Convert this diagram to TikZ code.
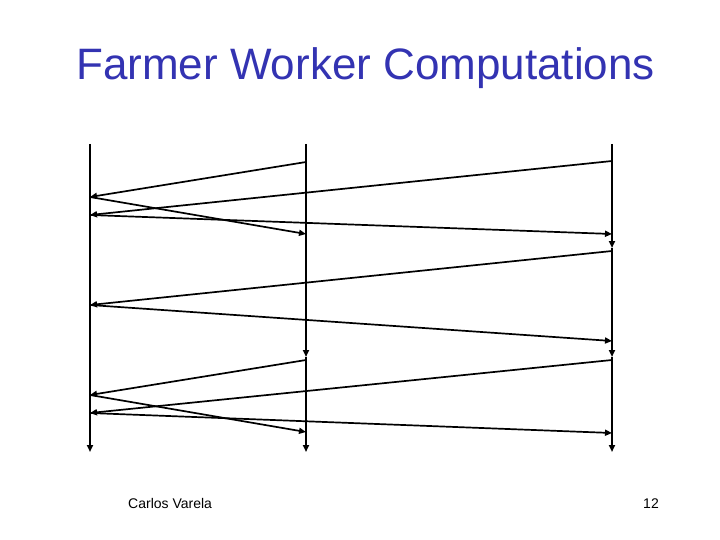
\documentclass[tikz,border=0pt]{standalone}
\usepackage{fontspec}
\setmainfont{Liberation Sans}
\usepackage{xcolor}
\usepackage{tikz}
\usetikzlibrary{arrows.meta}

\definecolor{titleblue}{RGB}{51,51,178}

\begin{document}
\begin{tikzpicture}[
  x=1pt, y=-1pt,
  life/.style={line width=1.7pt, -{Triangle[length=7pt,width=6pt]}},
  msg/.style={line width=1.7pt, -{Triangle[length=7pt,width=6pt]}},
  lab/.style={font=\fontsize{14}{16}\selectfont, inner sep=0pt}
]
\useasboundingbox (0,0) rectangle (720,540);

\node[font=\fontsize{44}{50}\selectfont, text=titleblue, anchor=base, inner sep=0pt] (title) at (365.5,80) {Farmer Worker Computations};

% lifelines
\coordinate (ftop) at (90,144);
\coordinate (fend) at (90,452);
\coordinate (atop) at (306,144);
\coordinate (a1) at (306,357);
\coordinate (aend) at (306,452);
\coordinate (btop) at (612,144);
\coordinate (b1) at (612,248);
\coordinate (b2) at (612,357);
\coordinate (bend) at (612,452);

\draw[life] (ftop) -- (fend);
\draw[life] (atop) -- (a1);
\draw[life] (a1) -- (aend);
\draw[life] (btop) -- (b1);
\draw[life] (b1) -- (b2);
\draw[life] (b2) -- (bend);

% events on the farmer
\coordinate (f1) at (90,197);
\coordinate (f2) at (90,215);
\coordinate (f3) at (90,305);
\coordinate (f4) at (90,395);
\coordinate (f5) at (90,413);

% events on the workers
\coordinate (as1) at (306,162);
\coordinate (ar1) at (306,234);
\coordinate (as2) at (306,360);
\coordinate (ar2) at (306,432);
\coordinate (bs1) at (612,161);
\coordinate (br1) at (612,234);
\coordinate (bs2) at (612,251);
\coordinate (br2) at (612,341);
\coordinate (bs3) at (612,360);
\coordinate (br3) at (612,433);

\draw[msg] (as1) -- (f1);
\draw[msg] (bs1) -- (f2);
\draw[msg] (f1) -- (ar1);
\draw[msg] (f2) -- (br1);

\draw[msg] (bs2) -- (f3);
\draw[msg] (f3) -- (br2);

\draw[msg] (as2) -- (f4);
\draw[msg] (bs3) -- (f5);
\draw[msg] (f4) -- (ar2);
\draw[msg] (f5) -- (br3);

\node[lab, anchor=base west] (author) at (128,508) {Carlos Varela};
\node[lab, anchor=base east] (page) at (659,508) {12};
\end{tikzpicture}
\end{document}
